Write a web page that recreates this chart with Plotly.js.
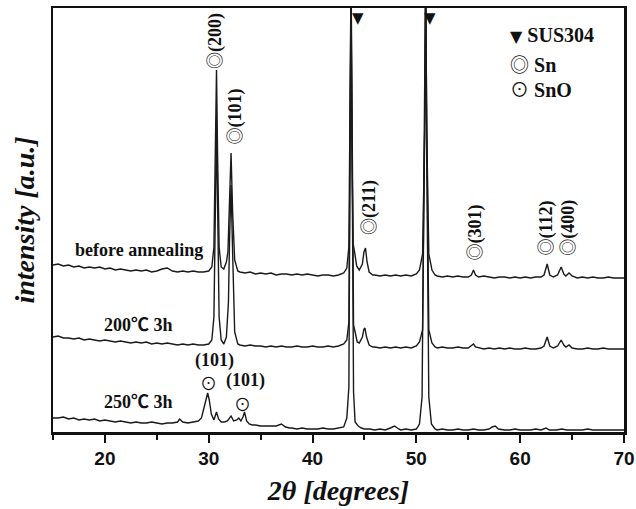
<!DOCTYPE html>
<html>
<head>
<meta charset="utf-8">
<script src="https://cdn.plot.ly/plotly-3.0.1.min.js"></script>
<style>
  html, body { margin: 0; padding: 0; background: #fff; }
  #chart { width: 636px; height: 509px; }
</style>
</head>
<body>
<div id="chart"></div>
<script>
// XRD patterns (stacked, arbitrary intensity units)

// before annealing
var twoThetaBefore = [15.0,15.5,16.0,16.5,17.0,17.5,18.0,18.5,19.0,19.5,20.0,20.5,21.0,21.5,22.0,22.5,23.0,23.5,24.0,24.5,25.0,25.5,26.0,26.5,27.0,27.5,28.0,28.5,29.0,29.5,30.0,30.3,30.5,30.65,30.75,30.85,31.0,31.2,31.45,31.7,31.85,32.0,32.15,32.3,32.5,32.8,33.0,33.5,34.0,34.5,35.0,35.5,36.0,36.5,37.0,37.5,38.0,38.5,39.0,39.5,40.0,40.5,41.0,41.5,42.0,42.5,43.0,43.3,43.5,43.62,43.7,43.78,43.9,44.05,44.25,44.5,44.8,44.95,45.1,45.25,45.45,45.8,46.0,46.5,47.0,47.5,48.0,48.5,49.0,49.5,50.0,50.3,50.6,50.8,50.9,51.0,51.2,51.5,51.8,52.0,52.5,53.0,53.5,54.0,54.5,55.0,55.3,55.5,55.7,56.0,56.5,57.0,57.5,58.0,58.5,59.0,59.5,60.0,60.5,61.0,61.5,62.0,62.3,62.6,62.85,63.2,63.6,63.95,64.2,64.4,64.7,65.0,65.5,66.0,66.5,67.0,67.5,68.0,68.5,69.0,69.5,70.0];
var intensityBefore = [167,168,166,167,165,166,164,165,164,165,163,164,162,163,162,161,162,161,162,160,161,163,164,161,160,161,160,161,160,160,161,165,185,280,362,280,185,165,163,170,180,230,279,220,172,161,160,159,160,158,159,158,159,157,158,158,157,158,157,158,157,156,157,157,156,157,159,164,185,300,445,300,189,180,166,162,168,180,184,170,160,157,157,156,157,156,157,156,157,156,158,162,178,300,445,300,178,162,157,156,155,156,155,156,155,155,157,162,157,155,156,155,154,155,155,154,155,154,155,154,155,155,157,168,157,155,157,165,158,156,159,156,154,155,154,155,154,154,155,154,154,154];

// 200 °C, 3 h
var twoTheta200 = [15.0,15.5,16.0,16.5,17.0,17.5,18.0,18.5,19.0,19.5,20.0,20.5,21.0,21.5,22.0,22.5,23.0,23.5,24.0,24.5,25.0,25.5,26.0,26.5,27.0,27.5,28.0,28.5,29.0,29.5,30.0,30.3,30.5,30.65,30.75,30.85,31.0,31.2,31.45,31.7,31.9,32.0,32.15,32.3,32.5,32.8,33.0,33.5,34.0,34.5,35.0,35.5,36.0,36.5,37.0,37.5,38.0,38.5,39.0,39.5,40.0,40.5,41.0,41.5,42.0,42.5,43.0,43.3,43.5,43.62,43.72,43.82,43.95,44.1,44.3,44.5,44.8,44.95,45.05,45.2,45.45,45.8,46.0,46.5,47.0,47.5,48.0,48.5,49.0,49.5,50.0,50.3,50.6,50.8,50.9,51.0,51.2,51.5,51.8,52.0,52.5,53.0,53.5,54.0,54.5,55.0,55.3,55.5,55.7,56.0,56.5,57.0,57.5,58.0,58.5,59.0,59.5,60.0,60.5,61.0,61.5,62.0,62.3,62.6,62.85,63.2,63.6,63.95,64.2,64.4,64.7,65.0,65.5,66.0,66.5,67.0,67.5,68.0,68.5,69.0,69.5,70.0];
var intensity200 = [95,96,94,94,93,94,92,93,92,91,92,91,90,91,90,89,90,89,90,88,89,88,89,88,87,88,87,88,87,87,88,92,115,230,312,230,115,92,88,95,130,190,247,180,100,88,87,86,87,86,86,85,86,85,86,85,85,86,85,85,86,85,85,86,85,86,88,92,110,300,445,300,107,100,90,89,95,103,104,95,87,85,85,84,85,84,85,84,85,84,86,90,102,300,445,300,102,89,85,84,85,84,84,85,84,84,86,88,85,84,83,84,83,84,83,84,83,83,84,83,83,84,86,95,86,84,86,92,87,85,87,84,83,83,84,83,83,84,83,83,83,83];

// 250 °C, 3 h
var twoTheta250 = [15.0,15.5,16.0,16.5,17.0,17.5,18.0,18.5,19.0,19.5,20.0,20.5,21.0,21.5,22.0,22.5,23.0,23.5,24.0,24.5,25.0,25.5,26.0,26.5,27.0,27.2,27.5,28.0,28.5,29.0,29.3,29.6,29.8,29.9,30.05,30.25,30.5,30.75,30.95,31.2,31.5,31.8,32.15,32.4,32.7,32.9,33.1,33.3,33.45,33.65,33.9,34.2,34.5,35.0,35.5,36.0,36.5,37.0,37.4,37.8,38.0,38.5,39.0,39.5,40.0,40.5,41.0,41.5,42.0,42.5,43.0,43.3,43.5,43.62,43.7,43.8,43.95,44.1,44.4,44.7,45.0,45.5,46.0,46.5,47.0,47.5,47.9,48.3,48.5,49.0,49.5,50.0,50.3,50.55,50.78,50.88,50.98,51.2,51.45,51.8,52.0,52.5,53.0,53.5,54.0,54.5,55.0,55.5,56.0,56.5,57.0,57.3,57.6,57.9,58.5,59.0,59.5,60.0,60.5,61.0,61.5,62.0,62.5,62.8,63.5,64.0,64.5,65.0,65.5,66.0,66.5,67.0,67.5,68.0,68.5,69.0,69.5,70.0];
var intensity250 = [14,14,15,13,14,12,13,12,13,11,12,11,10,11,10,9,10,9,9,10,9,8,9,9,10,13,10,9,10,11,14,27,36,39,32,18,12,20,13,10,10,11,16,11,12,14,11,15,20,11,8,7,7,6,6,6,6,8,5,4,4,3,4,3,3,3,4,3,3,4,5,14,45,300,445,300,40,10,6,4,3,3,2,3,2,4,6,3,2,3,2,3,8,35,300,445,300,35,8,3,2,3,2,2,3,2,2,3,2,2,3,5,6,3,2,2,3,2,2,2,3,2,4,2,2,3,2,2,2,2,3,2,2,2,2,2,2,2];

// peak labels (Miller indices of Sn reflections)
var snPeakLabels = ['(200)', '(101)', '(211)', '(301)', '(112)', '(400)'];
var snLabelTheta = [30.4, 32.3, 45.3, 55.5, 62.3, 64.4];
var snLabelBase = [361, 285, 195, 170, 174, 174];

// SnO reflections in the 250 °C pattern
var snoPeakLabels = ['(101)', '(101)'];
var snoLabelTheta = [30.0, 33.27];

// SUS304 substrate reflections
var susTheta = [44.42, 51.35];

var sampleNames = ['before annealing', '200\u2103 3h', '250\u2103 3h'];

var serif = 'Liberation Serif, Times New Roman, Noto Sans CJK SC, serif';
var lineStyle = {color: '#1a1a1a', width: 1.4};

// phase symbols drawn in a plain monochrome face
function sym(ch, size, face) {
  return '<span style="font-family:\'' + (face || 'Noto Sans CJK JP') +
    '\';font-weight:normal;font-size:' + size + 'px">' + ch + '</span>';
}
var DOUBLE_CIRCLE = '\u25CE', DOT_CIRCLE = '\u2299', DOWN_TRI = '\u25BC';

var traces = [
  {x: twoThetaBefore, y: intensityBefore, name: sampleNames[0]},
  {x: twoTheta200, y: intensity200, name: sampleNames[1]},
  {x: twoTheta250, y: intensity250, name: sampleNames[2]}
].map(function (t) {
  return Object.assign({type: 'scatter', mode: 'lines', line: lineStyle, hoverinfo: 'skip'}, t);
});

var labelFont = {family: serif, size: 18, color: '#111', weight: 'bold'};
var annotations = [];

// rotated Sn labels: double circle followed by the index
snPeakLabels.forEach(function (lab, i) {
  annotations.push({
    x: snLabelTheta[i], y: snLabelBase[i], xref: 'x', yref: 'y',
    text: sym(DOUBLE_CIRCLE, 17) + lab, textangle: -90, showarrow: false,
    xanchor: 'center', yanchor: 'bottom', font: labelFont
  });
});

// SnO labels
annotations.push({x: 30.6, y: 72, xref: 'x', yref: 'y', text: snoPeakLabels[0], showarrow: false, font: labelFont});
annotations.push({x: snoLabelTheta[0], y: 50, xref: 'x', yref: 'y', text: sym(DOT_CIRCLE, 17), showarrow: false, font: labelFont});
annotations.push({x: 33.56, y: 52, xref: 'x', yref: 'y', text: snoPeakLabels[1], showarrow: false, font: labelFont});
annotations.push({x: snoLabelTheta[1], y: 29, xref: 'x', yref: 'y', text: sym(DOT_CIRCLE, 17), showarrow: false, font: labelFont});

// SUS304 markers at the top of the substrate peaks
susTheta.forEach(function (t) {
  annotations.push({x: t, y: 414, xref: 'x', yref: 'y', text: sym(DOWN_TRI, 15, 'DejaVu Sans'), showarrow: false, font: labelFont});
});

// sample names
var sampleY = [182, 107, 30];
sampleNames.forEach(function (n, i) {
  annotations.push({x: 23.25, y: sampleY[i], xref: 'x', yref: 'y', text: n, showarrow: false, font: labelFont});
});

// phase key
var keyFont = {family: serif, size: 20, color: '#111', weight: 'bold'};
annotations.push({x: 58.8, y: 397, xref: 'x', yref: 'y', xanchor: 'left', text: sym(DOWN_TRI, 16, 'DejaVu Sans') + ' SUS304', showarrow: false, font: keyFont});
annotations.push({x: 58.8, y: 369, xref: 'x', yref: 'y', xanchor: 'left', text: sym(DOUBLE_CIRCLE, 19) + ' Sn', showarrow: false, font: keyFont});
annotations.push({x: 58.8, y: 344, xref: 'x', yref: 'y', xanchor: 'left', text: sym(DOT_CIRCLE, 19) + ' SnO', showarrow: false, font: keyFont});

var layout = {
  width: 636, height: 509,
  margin: {l: 53, r: 12, t: 8, b: 77},
  paper_bgcolor: '#fff', plot_bgcolor: '#fff',
  showlegend: false,
  xaxis: {
    range: [15, 70], dtick: 10, tick0: 20,
    ticks: 'outside', ticklen: 8, tickwidth: 2, tickcolor: '#111',
    minor: {dtick: 5, tick0: 15, ticks: 'outside', ticklen: 5, tickwidth: 2, tickcolor: '#111'},
    showline: true, linewidth: 2.5, linecolor: '#111', mirror: true,
    showgrid: false, zeroline: false,
    tickfont: {family: 'Liberation Sans, Arial, sans-serif', size: 19, color: '#111', weight: 'bold'},
    title: {text: '2\u03B8 [degrees]', standoff: 12,
      font: {family: serif, size: 28, color: '#111', weight: 'bold', style: 'italic'}}
  },
  yaxis: {
    range: [0, 424],
    showticklabels: false, ticks: '',
    showline: true, linewidth: 2.5, linecolor: '#111', mirror: true,
    showgrid: false, zeroline: false,
    title: {text: 'intensity [a.u.]', standoff: 8,
      font: {family: serif, size: 28, color: '#111', weight: 'bold', style: 'italic'}}
  },
  annotations: annotations
};

Plotly.newPlot('chart', traces, layout, {displayModeBar: false, staticPlot: true});
</script>
</body>
</html>
